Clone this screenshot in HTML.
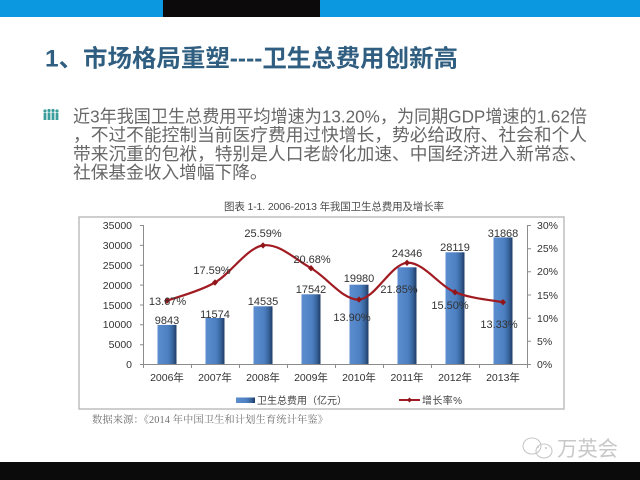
<!DOCTYPE html>
<html><head><meta charset="utf-8"><style>
html,body{margin:0;padding:0;background:#fff;}
svg{display:block;}
</style></head><body>
<svg width="640" height="480" viewBox="0 0 640 480" xmlns="http://www.w3.org/2000/svg" font-family="'Liberation Sans','Noto Sans CJK SC',sans-serif">
<defs>
<linearGradient id="bar" x1="0" y1="0" x2="1" y2="0">
<stop offset="0" stop-color="#5b8dcf"/>
<stop offset="0.55" stop-color="#4d80c2"/>
<stop offset="0.78" stop-color="#3b679f"/>
<stop offset="1" stop-color="#1e3b66"/>
</linearGradient>
</defs>
<rect x="0" y="0" width="640" height="480" fill="#fff"/>
<!-- top bar -->
<rect x="0" y="0" width="640" height="17" fill="#0c98e0"/>
<rect x="163" y="0" width="157" height="17" fill="#0d0a0c"/>
<!-- bottom black -->
<rect x="0" y="462" width="640" height="18" fill="#0b0b0b"/>

<!-- title -->
<text x="45" y="66.5" font-size="24" font-weight="bold" fill="#2f5e80" textLength="413" lengthAdjust="spacingAndGlyphs">1、市场格局重塑----卫生总费用创新高</text>

<!-- bullet icon -->
<g fill="#3a9d9c">
<circle cx="45" cy="111" r="1.6"/><rect x="43.6" y="113" width="2.8" height="7"/>
<circle cx="49" cy="110.5" r="1.6"/><rect x="47.6" y="112.5" width="2.8" height="7.5"/>
<circle cx="53" cy="110.5" r="1.6"/><rect x="51.6" y="112.5" width="2.8" height="7.5"/>
<circle cx="57" cy="111" r="1.6"/><rect x="55.6" y="113" width="2.8" height="7"/>
</g>

<!-- body text -->
<g font-size="17.7" fill="#676767">
<text x="73" y="122.5" textLength="514" lengthAdjust="spacingAndGlyphs">近3年我国卫生总费用平均增速为13.20%，为同期GDP增速的1.62倍</text>
<text x="73" y="141" textLength="514" lengthAdjust="spacing">，不过不能控制当前医疗费用过快增长，势必给政府、社会和个人</text>
<text x="73" y="160" textLength="514" lengthAdjust="spacing">带来沉重的包袱，特别是人口老龄化加速、中国经济进入新常态、</text>
<text x="73" y="178.5">社保基金收入增幅下降。</text>
</g>

<!-- chart title -->
<text x="224" y="210" font-size="10.5" fill="#4a4a4a" textLength="220" lengthAdjust="spacing">图表 1-1.  2006-2013 年我国卫生总费用及增长率</text>

<!-- chart frame -->
<rect x="79" y="217" width="485" height="192" fill="none" stroke="#bdbdbd" stroke-width="1.5"/>

<!-- axes -->
<g stroke="#8c8c8c" stroke-width="1" fill="none">
<line x1="143.5" y1="225" x2="143.5" y2="364"/>
<line x1="143" y1="364.5" x2="527" y2="364.5"/>
<line x1="527.5" y1="225" x2="527.5" y2="364"/>
<path d="M140 225.5h3.5M140 245.4h3.5M140 265.3h3.5M140 285.1h3.5M140 305h3.5M140 324.8h3.5M140 344.7h3.5M140 364.5h3.5"/>
<path d="M527.5 225.5h3.5M527.5 248.7h3.5M527.5 271.8h3.5M527.5 295h3.5M527.5 318.2h3.5M527.5 341.3h3.5M527.5 364.5h3.5"/>
<path d="M143.5 364v4M191.5 364v4M239.5 364v4M287.5 364v4M335.5 364v4M383.5 364v4M431.5 364v4M479.5 364v4M527.5 364v4"/>
</g>

<!-- left tick labels -->
<g font-size="10.5" fill="#333" text-anchor="end">
<text x="132" y="229">35000</text>
<text x="132" y="249">30000</text>
<text x="132" y="269">25000</text>
<text x="132" y="289">20000</text>
<text x="132" y="309">15000</text>
<text x="132" y="328">10000</text>
<text x="132" y="348">5000</text>
<text x="132" y="368">0</text>
</g>
<!-- right tick labels -->
<g font-size="10.5" fill="#333">
<text x="537" y="229">30%</text>
<text x="537" y="252">25%</text>
<text x="537" y="275">20%</text>
<text x="537" y="299">15%</text>
<text x="537" y="322">10%</text>
<text x="537" y="345">5%</text>
<text x="537" y="368">0%</text>
</g>

<!-- bars -->
<g fill="url(#bar)">
<rect x="157.5" y="324.9" width="19" height="39.1"/>
<rect x="205.5" y="318.0" width="19" height="46"/>
<rect x="253.5" y="306.3" width="19" height="57.7"/>
<rect x="301.5" y="294.3" width="19" height="69.7"/>
<rect x="349.5" y="284.7" width="19" height="79.3"/>
<rect x="397.5" y="267.3" width="19" height="96.7"/>
<rect x="445.5" y="252.3" width="19" height="111.7"/>
<rect x="493.5" y="237.4" width="19" height="126.6"/>
</g>

<!-- bar labels -->
<g font-size="11" fill="#333" text-anchor="middle">
<text x="167" y="324">9843</text>
<text x="215" y="318">11574</text>
<text x="263" y="305">14535</text>
<text x="311" y="293">17542</text>
<text x="359" y="282">19980</text>
<text x="407" y="257">24346</text>
<text x="455" y="251">28119</text>
<text x="503" y="237">31868</text>
</g>

<!-- line -->
<path d="M167 300.7 C175 297.67 199 291.7 215 282.5 C231 273.28 247 247.78 263 245.4 C279 243.02 295 259.17 311 268.2 C327 277.23 343 300.5 359 299.6 C375 298.7 391 264.03 407 262.8 C423 261.57 439 285.63 455 292.2 C471 298.77 495 300.53 503 302.2" fill="none" stroke="#a11c22" stroke-width="2.2"/>
<g fill="#8f1519">
<path d="M167 297.5l3 3.2-3 3.2-3-3.2z"/>
<path d="M215 279.3l3 3.2-3 3.2-3-3.2z"/>
<path d="M263 242.2l3 3.2-3 3.2-3-3.2z"/>
<path d="M311 265l3 3.2-3 3.2-3-3.2z"/>
<path d="M359 296.4l3 3.2-3 3.2-3-3.2z"/>
<path d="M407 259.6l3 3.2-3 3.2-3-3.2z"/>
<path d="M455 289l3 3.2-3 3.2-3-3.2z"/>
<path d="M503 299l3 3.2-3 3.2-3-3.2z"/>
</g>

<!-- percent labels -->
<g font-size="11" fill="#333" text-anchor="middle">
<text x="167.5" y="305">13.67%</text>
<text x="212" y="274">17.59%</text>
<text x="263" y="237">25.59%</text>
<text x="312" y="263">20.68%</text>
<text x="352" y="321">13.90%</text>
<text x="399" y="293">21.85%</text>
<text x="450" y="309">15.50%</text>
<text x="499" y="328">13.33%</text>
</g>

<!-- x labels -->
<g font-size="10.5" fill="#333" text-anchor="middle">
<text x="167" y="381">2006年</text>
<text x="215" y="381">2007年</text>
<text x="263" y="381">2008年</text>
<text x="311" y="381">2009年</text>
<text x="359" y="381">2010年</text>
<text x="407" y="381">2011年</text>
<text x="455" y="381">2012年</text>
<text x="503" y="381">2013年</text>
</g>

<!-- legend -->
<rect x="236" y="397.5" width="19" height="5.5" fill="url(#bar)"/>
<text x="257" y="404" font-size="10" fill="#444" textLength="90" lengthAdjust="spacing">卫生总费用（亿元）</text>
<line x1="399" y1="400" x2="420" y2="400" stroke="#a11c22" stroke-width="2"/>
<path d="M409.5 397.5l2.5 2.5-2.5 2.5-2.5-2.5z" fill="#8f1519"/>
<text x="422" y="404" font-size="10" fill="#444" textLength="40" lengthAdjust="spacing">增长率%</text>

<!-- source -->
<text x="92" y="423" font-size="10.3" fill="#707070" font-family="'Liberation Serif','Noto Serif CJK SC',serif" textLength="236" lengthAdjust="spacing">数据来源：《2014 年中国卫生和计划生育统计年鉴》</text>

<!-- watermark -->
<g fill="none" stroke="#c8c8c8" stroke-width="1.1">
<ellipse cx="532" cy="446" rx="9" ry="8"/>
<ellipse cx="544" cy="451" rx="8" ry="7"/>
</g>
<g fill="#c8c8c8">
<circle cx="538" cy="447" r="1"/><circle cx="546" cy="448" r="1"/>
</g>
<text x="557" y="456" font-size="21" fill="#c8c8c8" textLength="61" lengthAdjust="spacingAndGlyphs">万英会</text>
</svg>
</body></html>
